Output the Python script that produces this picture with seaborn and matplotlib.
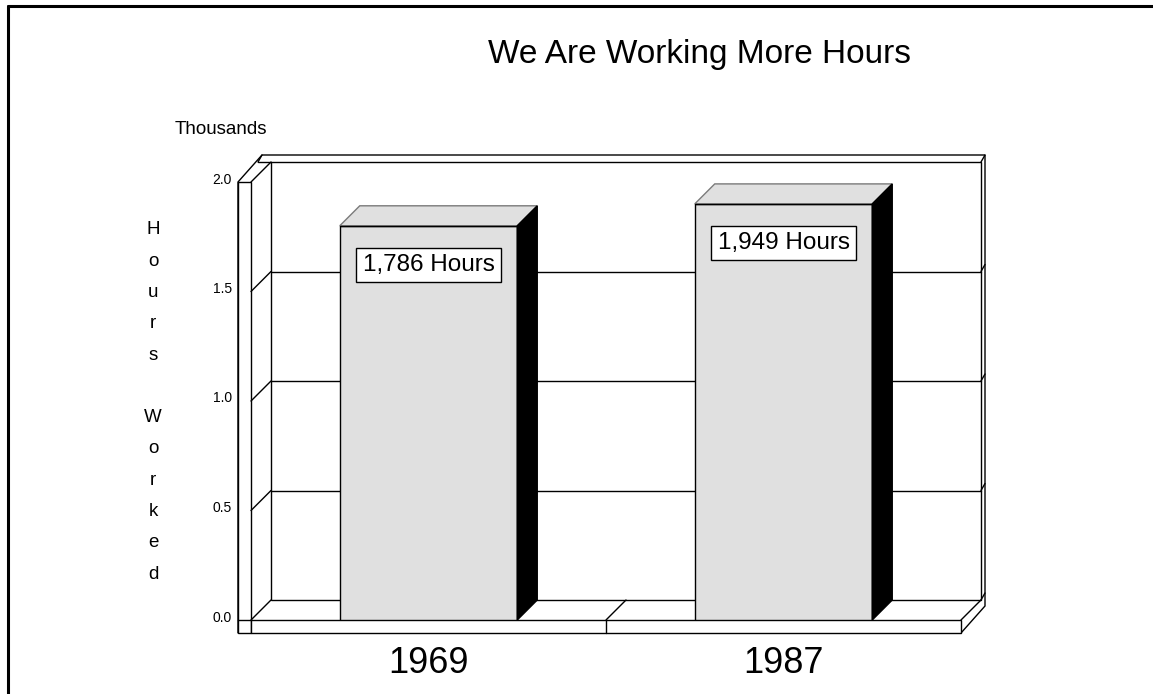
import matplotlib
matplotlib.use("Agg")
import matplotlib.pyplot as plt
import matplotlib.transforms as mtransforms
from matplotlib.patches import Polygon, Rectangle
from matplotlib.lines import Line2D
import seaborn as sns
import pandas as pd

# Datos
years = ["1969", "1987"]
hours = [1786, 1949]              # valores de las etiquetas
bar_heights = [1.80, 1.90]        # altura dibujada de las barras (miles)
y_ticks = [0.0, 0.5, 1.0, 1.5, 2.0]

df = pd.DataFrame({"year": years, "height": bar_heights, "hours": hours})

sns.set_theme(style="white")
plt.rcParams["font.family"] = ["Liberation Sans", "DejaVu Sans"]
plt.rcParams["text.color"] = "black"
plt.rcParams["xtick.color"] = "black"
plt.rcParams["ytick.color"] = "black"

W_PX, H_PX = 1153, 694
fig = plt.figure(figsize=(W_PX / 100, H_PX / 100), dpi=100)
ax = fig.add_axes([251 / W_PX, (H_PX - 620) / H_PX, 710 / W_PX, 438 / H_PX])

sns.barplot(data=df, x="year", y="height", color="#e0e0e0", saturation=1,
            width=0.5, edgecolor="black", linewidth=1, errorbar=None, ax=ax, zorder=3)
ax.set_xlim(-0.5, 1.5)
ax.set_ylim(0, 2.0)
for s in ax.spines.values():
    s.set_visible(False)
ax.set_xlabel("")
ax.set_ylabel("")
ax.set_xticks([0, 1])
ax.set_xticklabels(years, fontsize=26)
ax.set_yticks(y_ticks)
ax.set_yticklabels([f"{t:.1f}" for t in y_ticks], fontsize=10)
ax.tick_params(axis="x", length=0, pad=19)
ax.tick_params(axis="y", length=0, pad=13.7)
up = mtransforms.ScaledTranslation(0, 4 / 100, fig.dpi_scale_trans)
for lab in ax.get_yticklabels():
    lab.set_transform(lab.get_transform() + up)

# coordenadas en pixeles de la imagen (origen arriba a la izquierda)
px = mtransforms.Affine2D().scale(1, -1).translate(0, H_PX)


def to_px(x, y):
    dx, dy = ax.transData.transform((x, y))
    return dx, H_PX - dy


def poly(pts, fc="white", ec="black", lw=1, z=1):
    ax.add_patch(Polygon(pts, closed=True, fc=fc, ec=ec, lw=lw, transform=px,
                         clip_on=False, zorder=z))


def line(p, q, z=1.5, color="black", lw=1):
    ax.add_line(Line2D([p[0], q[0]], [p[1], q[1]], color=color, lw=lw,
                       transform=px, clip_on=False, zorder=z))


D, WT, TX, TY = 20, 13, 4, 7
L, B = to_px(-0.5, 0)
R, T = to_px(1.5, 2.0)

# silueta exterior
poly([(L - WT, B + WT), (L - WT, T), (L - WT + D + TX, T - D - TY),
      (R + D + TX, T - D - TY), (R + D + TX, B + WT - D - TY), (R, B + WT)], z=0.5)
# pared del fondo
poly([(L + D, T - D), (R + D, T - D), (R + D, B - D), (L + D, B - D)], z=0.6)
# losa izquierda y suelo
poly([(L - WT, T), (L, T), (L, B + WT), (L - WT, B + WT)], z=0.7)
poly([(L, B), (R, B), (R, B + WT), (L, B + WT)], z=0.7)
line((L - WT, B), (L, B))
line((L, T), (L + D, T - D))
line((L, B), (L + D, B - D))
line((R, B), (R + D, B - D))
line((R + D, T - D), (R + D + TX, T - D - TY))
line((L - WT + D, T - D), (L + D, T - D))
line((L - WT + D, T - D), (L - WT + D + TX, T - D - TY))
line((R + D, B - D), (R + D + TX, B - D - TY))
mx, _ = to_px(0.5, 0)
line((mx, B), (mx, B + WT))
line((mx, B), (mx + D, B - D))

# lineas de rejilla en la pared del fondo
for t in y_ticks[1:-1]:
    _, yy = to_px(0, t)
    line((L, yy), (L + D, yy - D), z=1)
    line((L + D, yy - D), (R + D, yy - D), z=1)
    line((R + D, yy - D), (R + D + TX, yy - D - TY), z=1)

# caras superior y lateral de las barras
for patch in ax.patches:
    if not isinstance(patch, Rectangle) or patch.get_height() <= 0:
        continue
    x0, x1 = patch.get_x(), patch.get_x() + patch.get_width()
    h = patch.get_height()
    a = to_px(x0, h)
    b = to_px(x1, h)
    c = to_px(x1, 0)
    poly([a, b, (b[0] + D, b[1] - D), (a[0] + D, a[1] - D)], fc="#e0e0e0", ec="#7a7a7a", z=3.2)
    line(a, b, z=3.3)
    poly([b, c, (c[0] + D, c[1] - D), (b[0] + D, b[1] - D)], fc="black", ec="black", z=3.2)

# etiquetas de valor
for i, row in df.iterrows():
    ax.text(i, row["height"] - 0.18, f"{row['hours']:,} Hours", ha="center", va="center",
            fontsize=17.5, zorder=5,
            bbox=dict(boxstyle="square,pad=0.25", fc="white", ec="black", lw=1))

fig.text(700 / W_PX, 1 - 55 / H_PX, "We Are Working More Hours", ha="center", va="center",
         fontsize=24)
fig.text(175 / W_PX, 1 - 130 / H_PX, "Thousands", ha="left", va="center", fontsize=13.5)
ylab = "\n".join(list("Hours")) + "\n\n" + "\n".join(list("Worked"))
fig.text(153 / W_PX, 1 - 402 / H_PX, ylab, ha="center", va="center", fontsize=13.5,
         linespacing=2.1)

# marco del grafico
fig.add_artist(Line2D([8 / W_PX, 8 / W_PX], [0, 1 - 6 / H_PX], color="black", lw=2.2))
fig.add_artist(Line2D([8 / W_PX, 1], [1 - 6 / H_PX, 1 - 6 / H_PX], color="black", lw=2.2))

fig.savefig("out.png", dpi=100)
